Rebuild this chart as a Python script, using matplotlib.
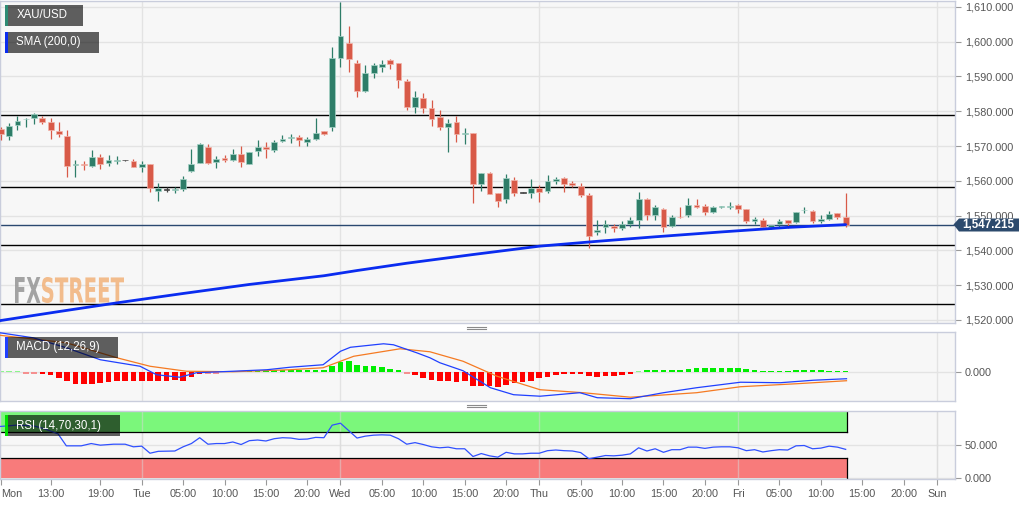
import numpy as np
import matplotlib
matplotlib.use("Agg")
import matplotlib.pyplot as plt
from matplotlib.patches import Rectangle, Polygon, PathPatch
from matplotlib.lines import Line2D
from matplotlib.textpath import TextPath
from matplotlib.font_manager import FontProperties
from matplotlib.transforms import Affine2D
from matplotlib.ticker import FuncFormatter

plt.rcParams['font.family'] = ['Liberation Sans', 'DejaVu Sans']

W, H = 1032, 505

# time axis: hours counted from Tue 00:00 (hourly candles, Saturday not shown)
hours = np.arange(-17, 86)

opens = [1574.8, 1572.9, 1576.0, 1577.7, 1578.0, 1578.1, 1576.9, 1574.4, 1572.9, 1564.5,
         1564.8, 1564.4, 1566.8, 1565.0, 1565.7, 1565.9, 1565.6, 1564.1, 1564.8, 1557.0,
         1557.4, 1557.3, 1557.5, 1562.9, 1565.0, 1569.6, 1565.3, 1566.6, 1566.0, 1567.8,
         1564.9, 1568.7, 1569.7, 1568.9, 1571.4, 1572.4, 1572.5, 1571.2, 1572.1, 1574.2,
         1575.4, 1595.2, 1599.6, 1594.0, 1585.8, 1590.9, 1592.6, 1594.8, 1593.9, 1588.7,
         1581.1, 1583.7, 1580.9, 1578.3, 1575.6, 1576.8, 1573.6, 1573.7, 1559.1, 1562.2,
         1556.4, 1554.8, 1560.3, 1556.6, 1556.6, 1557.9, 1557.1, 1559.8, 1560.8, 1559.3,
         1558.6, 1555.9, 1545.3, 1546.6, 1547.1, 1546.5, 1547.6, 1548.6, 1554.9, 1550.2,
         1551.8, 1547.0, 1549.7, 1550.2, 1552.9, 1552.8, 1551.1, 1552.5, 1552.5, 1552.9,
         1551.8, 1548.3, 1548.7, 1546.6, 1547.6, 1548.6, 1548.1, 1551.5, 1551.3, 1548.3,
         1549.0, 1550.7, 1549.7]
highs = [1575.5, 1576.5, 1578.5, 1578.0, 1579.4, 1578.7, 1578.0, 1576.8, 1574.6, 1566.0,
         1565.6, 1568.9, 1567.7, 1567.3, 1567.0, 1566.0, 1566.2, 1565.8, 1564.9, 1559.3,
         1558.2, 1558.3, 1561.3, 1569.1, 1570.8, 1570.6, 1567.0, 1567.3, 1569.1, 1569.9,
         1568.4, 1571.7, 1571.3, 1571.8, 1573.2, 1573.5, 1573.2, 1572.7, 1578.0, 1574.3,
         1598.4, 1611.4, 1604.5, 1594.8, 1593.3, 1593.8, 1594.7, 1594.9, 1594.0, 1589.3,
         1585.9, 1585.2, 1583.1, 1580.4, 1577.7, 1578.5, 1575.1, 1573.8, 1562.3, 1562.5,
         1556.5, 1562.0, 1561.2, 1556.8, 1560.5, 1558.8, 1561.7, 1561.2, 1561.2, 1559.8,
         1559.5, 1556.4, 1548.8, 1548.8, 1547.6, 1548.5, 1549.5, 1556.9, 1555.0, 1553.1,
         1552.1, 1550.2, 1552.4, 1555.0, 1554.7, 1553.4, 1552.8, 1552.8, 1554.0, 1553.3,
         1551.9, 1549.7, 1549.2, 1547.4, 1549.0, 1548.8, 1551.1, 1552.6, 1551.6, 1550.1,
         1551.2, 1550.8, 1556.6]
lows = [1571.7, 1571.7, 1574.6, 1575.6, 1576.4, 1576.4, 1571.9, 1572.7, 1561.2, 1561.2,
        1563.1, 1564.1, 1563.3, 1564.4, 1564.9, 1565.8, 1564.0, 1562.6, 1556.9, 1554.2,
        1556.7, 1556.4, 1557.1, 1562.6, 1565.0, 1564.8, 1563.6, 1565.4, 1565.8, 1564.1,
        1564.9, 1567.0, 1566.5, 1568.4, 1571.1, 1571.0, 1569.9, 1569.9, 1571.8, 1573.3,
        1574.2, 1592.8, 1591.2, 1584.2, 1585.6, 1589.5, 1591.4, 1592.2, 1586.6, 1580.4,
        1579.6, 1579.4, 1575.8, 1574.6, 1568.4, 1571.3, 1570.5, 1553.6, 1557.2, 1556.1,
        1552.6, 1553.5, 1555.5, 1556.4, 1555.0, 1554.0, 1556.4, 1559.1, 1556.9, 1558.3,
        1555.3, 1540.6, 1544.4, 1544.9, 1545.2, 1545.9, 1546.8, 1546.5, 1548.8, 1548.6,
        1545.2, 1546.8, 1549.2, 1549.7, 1552.1, 1550.2, 1550.7, 1552.3, 1551.8, 1550.7,
        1548.0, 1547.6, 1546.0, 1546.0, 1546.6, 1546.3, 1547.8, 1550.7, 1548.0, 1548.0,
        1548.6, 1549.0, 1546.8]
closes = [1573.5, 1575.8, 1577.2, 1577.9, 1579.2, 1576.9, 1574.6, 1573.5, 1564.4, 1564.7,
          1564.6, 1566.8, 1564.9, 1565.9, 1565.9, 1565.9, 1564.1, 1564.7, 1557.9, 1557.8,
          1557.4, 1557.5, 1560.6, 1564.8, 1570.6, 1565.0, 1566.3, 1565.9, 1567.7, 1565.5,
          1568.4, 1569.8, 1569.1, 1571.3, 1572.0, 1572.6, 1571.6, 1572.0, 1573.8, 1573.4,
          1595.3, 1601.7, 1595.0, 1585.8, 1590.9, 1593.3, 1593.5, 1593.5, 1589.0, 1581.3,
          1584.0, 1580.9, 1577.7, 1575.6, 1576.7, 1573.5, 1573.7, 1559.1, 1562.2, 1556.2,
          1554.2, 1560.7, 1556.4, 1556.6, 1558.0, 1556.8, 1559.8, 1560.6, 1559.1, 1558.7,
          1555.9, 1544.2, 1545.9, 1547.5, 1546.5, 1547.5, 1548.8, 1554.9, 1550.2, 1552.4,
          1546.8, 1549.7, 1549.5, 1553.1, 1552.6, 1551.1, 1552.4, 1552.6, 1552.8, 1551.8,
          1548.5, 1549.0, 1546.6, 1547.3, 1548.5, 1548.0, 1551.0, 1551.6, 1548.5, 1549.0,
          1550.4, 1549.7, 1547.215]

sma_hours = [-17.1, -10, -3, 5, 13, 22, 26, 32, 40, 48, 55, 62, 70, 78, 85]
sma_vals = [1519.8, 1522.4, 1524.9, 1527.6, 1530.2, 1532.7, 1534.2, 1536.3, 1538.8,
            1541.2, 1542.6, 1543.9, 1545.3, 1546.6, 1547.4]

levels = [1578.9, 1558.2, 1541.5, 1524.5]
last_price = 1547.215

macd_hours = [-17.1, -13.1, -9.1, -5, -0.2, 1.8, 4.6, 6.6, 11, 15.1, 17.9, 21.9, 24, 25.2,
              29.2, 30.4, 33.2, 34.8, 36, 38.8, 42.1, 44.9, 48.1, 52.9, 55, 59, 63, 67,
              72.3, 77.1, 81.1, 85.1]
macd_vals = [7.9, 6.9, 4.9, 2.5, 1.2, -0.5, -1.0, -0.1, 0.2, 0.5, 1.0, 1.5, 4.2, 5.0,
             5.7, 5.5, 3.9, 2.9, 1.9, 0.3, -3.1, -4.5, -4.8, -4.1, -5.1, -5.3, -4.1, -3.1,
             -2.0, -2.1, -1.6, -1.3]
signal_hours = [-17.1, -9.1, -3, 1, 5.4, 11, 17.9, 21.9, 25.6, 31.2, 34.8, 38.8, 42.9,
                48.1, 53.3, 59, 67, 72.3, 79.1, 85.1]
signal_vals = [7.4, 5.9, 2.9, 1.2, 0.2, 0.1, 0.5, 0.9, 3.2, 4.7, 4.1, 2.2, -0.8,
               -3.5, -4.1, -5.0, -4.1, -2.9, -2.3, -1.7]
hist_vals = [0.1, 0.1, 0.05, -0.02, -0.05, -0.4, -0.6, -1.1, -1.8, -2.3,
             -2.3, -2.3, -2.1, -2.0, -1.8, -1.8, -1.8, -1.8, -1.8, -1.8,
             -1.7, -1.5, -1.7, -1.0, -0.3, -0.1, -0.02, 0.02, 0.2, 0.3,
             0.3, 0.3, 0.4, 0.4, 0.4, 0.4, 0.4, 0.4, 0.4, 0.4,
             1.3, 2.0, 2.2, 1.5, 1.3, 1.2, 1.1, 0.7, 0.4, -0.1,
             -0.5, -1.1, -1.5, -1.8, -1.8, -1.9, -1.8, -2.7, -2.7, -2.7,
             -3.0, -2.5, -2.2, -2.0, -1.7, -1.1, -1.0, -0.5, -0.4, -0.3,
             -0.3, -0.8, -0.9, -0.8, -0.7, -0.5, -0.3, 0.2, 0.5, 0.5,
             0.5, 0.5, 0.5, 0.7, 0.8, 0.8, 0.8, 0.8, 0.9, 0.8,
             0.6, 0.5, 0.3, 0.3, 0.3, 0.3, 0.4, 0.4, 0.4, 0.4,
             0.3, 0.3, 0.3]

rsi_hours = [-17.1, -15.1, -13.1, -11.9, -10.1, -9.1, -7.3, -6.1, -5.0, -3.4, -2.0, -1.0,
             0, 1, 2, 4, 5, 6, 7, 8, 9, 10, 11, 12, 13, 14, 15, 16, 17, 18, 19, 20, 21, 22,
             23, 24, 25, 26, 27, 28, 29, 30, 31, 32, 33, 34, 35, 36, 37, 38, 39, 40, 41, 42,
             43, 44, 45, 46, 47, 48, 49, 50, 51, 52, 53, 54, 55, 56, 57, 58, 59, 60, 61, 62,
             63, 64, 65, 66, 67, 68, 69, 70, 71, 72, 73, 74, 75, 76, 77, 78, 79, 80, 81, 82,
             83, 84, 85]
rsi_vals = [78.3, 80.3, 79.3, 75.4, 67.0, 48.7, 48.7, 52.2, 49.7, 51.2, 51.2, 47.2,
            48.2, 37.4, 40.3, 40.8, 47.2, 52.2, 61.1, 51.2, 52.2, 52.2, 54.6, 50.7, 56.6,
            57.6, 56.1, 59.6, 61.1, 60.6, 58.6, 59.1, 61.6, 61.1,
            80.3, 83.3, 71.9, 60.6, 63.5, 65.0, 65.5, 65.0, 59.6, 51.2, 53.6, 50.7, 47.2,
            45.7, 46.7, 44.2, 44.2, 32.4, 36.9, 33.4, 31.4, 38.8, 36.4, 36.4, 37.4, 37.4,
            41.3, 42.3, 41.3, 40.8, 38.4, 29.0, 31.4, 33.9, 33.4, 34.4, 36.4, 45.7, 40.8,
            44.2, 38.8, 42.8, 42.8, 46.7, 46.7, 44.8, 46.7, 47.2, 47.2, 45.7, 41.3, 42.8,
            39.3, 41.3, 42.8, 42.3, 48.7, 49.2, 44.2, 45.2, 48.2, 46.7, 43.3]

tick_pos = [-17, -11, -5, 0, 5, 10, 15, 20, 24, 29, 34, 39, 44, 48, 53, 58, 63, 68,
            72, 77, 82, 87, 92, 96]
tick_lbl = ["Mon", "13:00", "19:00", "Tue", "05:00", "10:00", "15:00", "20:00", "Wed",
            "05:00", "10:00", "15:00", "20:00", "Thu", "05:00", "10:00", "15:00", "20:00",
            "Fri", "05:00", "10:00", "15:00", "20:00", "Sun"]
day_lines = [0, 24, 48, 72, 96]

GREEN, RED = "#2e7d68", "#d85a48"
PANEL_BG, BORDER, GRID = "#f7f7f7", "#c9cddc", "#e3e3e3"
TXT = "#555555"
XMIN, XMAX = -17.11, 98.2


def fx(px):
    return px / W


def fy(py):
    return 1 - py / H


fig = plt.figure(figsize=(W / 100, H / 100), dpi=100)
fig.patch.set_facecolor("white")

ax_p = fig.add_axes([0, fy(322.7), fx(955), (322.7 - 1) / H])
ax_m = fig.add_axes([0, fy(400.7), fx(955), (400.7 - 332.3) / H])
ax_r = fig.add_axes([0, fy(479), fx(955), (479 - 410.7) / H])

for ax in (ax_p, ax_m, ax_r):
    ax.set_facecolor(PANEL_BG)
    ax.set_xlim(XMIN, XMAX)
    for sp in ax.spines.values():
        sp.set_color(BORDER)
        sp.set_linewidth(1.0)
    ax.yaxis.tick_right()
    ax.tick_params(axis="y", length=4.5, color="#999999", labelcolor=TXT,
                   labelsize=7.8, pad=2.5)
    ax.grid(axis="y", color=GRID, lw=1.0, zorder=0)
    ax.set_axisbelow(True)
    for d in day_lines:
        ax.axvline(d, color=GRID, lw=1.0, zorder=0.5)

ax_p.tick_params(axis="x", bottom=False, labelbottom=False)
ax_m.tick_params(axis="x", bottom=False, labelbottom=False)

# ---- price panel ----
ax_p.set_ylim(1519.2, 1611.7)
ax_p.set_yticks(np.arange(1520, 1611, 10))
ax_p.yaxis.set_major_formatter(FuncFormatter(lambda v, _: f"{v:,.3f}"))

# FXSTREET watermark (stretched text paths)
def add_word(ax, txt, x0, x1, y_top, y_bot, color, alpha):
    tp = TextPath((0, 0), txt, size=1,
                  prop=FontProperties(family="DejaVu Sans", weight="bold"))
    bb = tp.get_extents()
    tr = (Affine2D().translate(-bb.x0, -bb.y0)
          .scale((x1 - x0) / bb.width / W, (y_bot - y_top) / bb.height / H)
          .translate(fx(x0), fy(y_bot)) + fig.transFigure)
    ax.add_patch(PathPatch(tp, transform=tr, facecolor=color, lw=0,
                           alpha=alpha, zorder=0.8))

add_word(ax_p, "FX", 15, 40.5, 277, 303, "#9a9a9a", 0.9)
add_word(ax_p, "STREET", 42, 124, 277, 303, "#f2b27a", 0.85)

for lv in levels:
    ax_p.axhline(lv, color="black", lw=1.0, zorder=2)
ax_p.axhline(last_price, color="#2a4870", lw=1.0, zorder=2)

o = np.array(opens)
c = np.array(closes)
hi = np.array(highs)
lo = np.array(lows)
cols = np.where(c > o, GREEN, np.where(c < o, RED, "#444444"))
edges = np.where(c > o, "#a6d3c6", np.where(c < o, "#f2b4aa", "#444444"))
ax_p.vlines(hours, lo, hi, colors=cols, lw=0.9, zorder=3)
ax_p.bar(hours, np.maximum(np.abs(c - o), 0.2), bottom=np.minimum(o, c), width=0.7,
         color=cols, edgecolor=edges, lw=0.5, zorder=4)

ax_p.plot(sma_hours, sma_vals, color="#0a2cf0", lw=2.0, zorder=5,
          solid_capstyle="round")

# ---- MACD panel ----
ax_m.set_ylim(-5.7, 8.0)
ax_m.set_yticks([0])
ax_m.yaxis.set_major_formatter(FuncFormatter(lambda v, _: f"{v:.3f}"))
hv = np.array(hist_vals)
small = np.abs(hv) < 0.25
hcol = np.where(hv >= 0, np.where(small, "#8cf58c", "#00ee00"),
                np.where(small, "#f59090", "#ff0000"))
hh = np.where(small, np.sign(hv) * 0.28, hv)
ax_m.bar(hours, hh, width=0.68, color=hcol, lw=0, zorder=2)
ax_m.plot(signal_hours, signal_vals, color="#f57a22", lw=0.9, zorder=3)
ax_m.plot(macd_hours, macd_vals, color="#2040ff", lw=0.9, zorder=4)

# ---- RSI panel ----
ax_r.set_ylim(-2.0, 102.4)
ax_r.set_yticks([0, 50])
ax_r.yaxis.set_major_formatter(FuncFormatter(lambda v, _: f"{v:.3f}"))
x0b, x1b = hours[0] - 0.11, hours[-1] + 0.1
ax_r.fill_between([x0b, x1b], 70, 100, color="#7bf77b", lw=0, zorder=1)
ax_r.fill_between([x0b, x1b], 0, 30, color="#f87b7b", lw=0, zorder=1)
ax_r.plot([x0b, x1b], [70, 70], color="black", lw=0.9, zorder=2)
ax_r.plot([x0b, x1b], [30, 30], color="black", lw=0.9, zorder=2)
ax_r.plot([x1b, x1b], [70, 100], color="black", lw=0.9, zorder=2)
ax_r.plot([x1b, x1b], [0, 30], color="black", lw=0.9, zorder=2)
for d in day_lines:
    ax_r.axvline(d, color="#d8d8d8", lw=1.0, alpha=0.5, zorder=1.5)
ax_r.plot(rsi_hours, rsi_vals, color="#3050ff", lw=0.9, zorder=3)

ax_r.set_xticks(tick_pos)
ax_r.set_xticklabels(tick_lbl)
ax_r.tick_params(axis="x", length=4, color="#999999", labelcolor=TXT,
                 labelsize=7.8, pad=3)
ax_r.get_xticklabels()[0].set_ha("left")

# ---- overlays: labels, price tag, drag handles ----
def label_box(x0, y0, x1, y1, text, bar_color):
    fig.add_artist(Rectangle((fx(x0), fy(y1)), (x1 - x0) / W, (y1 - y0) / H,
                             transform=fig.transFigure, facecolor="black",
                             alpha=0.62, lw=0, zorder=10))
    fig.add_artist(Rectangle((fx(x0), fy(y1)), 2.5 / W, (y1 - y0) / H,
                             transform=fig.transFigure, facecolor=bar_color,
                             lw=0, zorder=11))
    fig.text(fx(x0 + 11.5), fy((y0 + y1) / 2), text, color="white", fontsize=8.3,
             va="center", ha="left", zorder=12)

label_box(5, 5, 83, 26, "XAU/USD", "#2e8b74")
label_box(5, 32, 99, 53, "SMA (200,0)", "#0a2cf0")
label_box(5, 337, 118, 357.5, "MACD (12,26,9)", "#2040ff")
label_box(5, 415, 120, 436, "RSI (14,70,30,1)", "#00e000")

tag = [(953.5, 224.5), (959, 218.5), (1019, 218.5), (1019, 231.5), (959, 231.5)]
fig.add_artist(Polygon([(fx(a), fy(b)) for a, b in tag], closed=True,
                       transform=fig.transFigure, facecolor="#2c4a6d", lw=0,
                       zorder=10))
fig.text(fx(988), fy(225), f"{last_price:,.3f}", color="white", fontsize=8.4,
         fontweight="bold", ha="center", va="center", zorder=11)

for yy in (326.8, 329.2, 404.8, 407.2):
    fig.add_artist(Line2D([fx(467), fx(486)], [fy(yy), fy(yy)],
                          transform=fig.transFigure, color="#8a8a8a", lw=0.8))

fig.savefig("out.png", dpi=100, facecolor="white")
